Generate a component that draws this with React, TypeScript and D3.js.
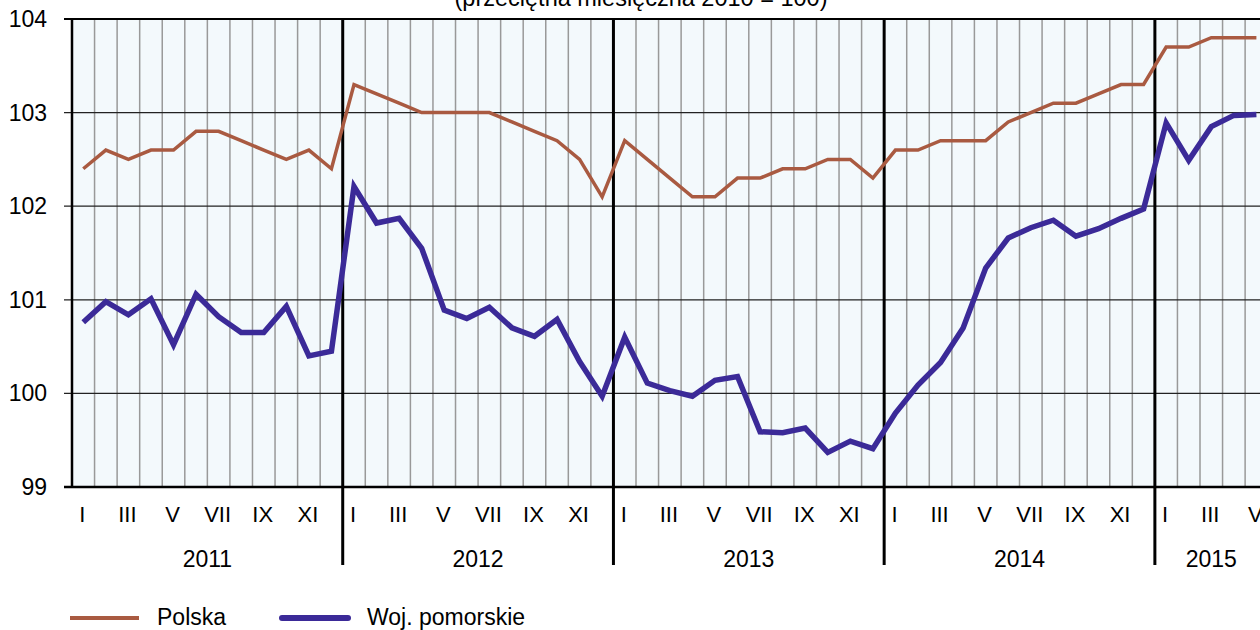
import React, { useEffect, useRef } from "react";
import * as d3 from "d3";

// Indeks cen (przeciętna miesięczna 2010 = 100), I 2011 – V 2015
const years = ["2011", "2012", "2013", "2014", "2015"];
const monthLabels = ["I", "", "III", "", "V", "", "VII", "", "IX", "", "XI", ""];
const yTicks = [99, 100, 101, 102, 103, 104];

const polska = [
  102.4, 102.6, 102.5, 102.6, 102.6, 102.8, 102.8, 102.7, 102.6, 102.5, 102.6, 102.4,
  103.3, 103.2, 103.1, 103.0, 103.0, 103.0, 103.0, 102.9, 102.8, 102.7, 102.5, 102.1,
  102.7, 102.5, 102.3, 102.1, 102.1, 102.3, 102.3, 102.4, 102.4, 102.5, 102.5, 102.3,
  102.6, 102.6, 102.7, 102.7, 102.7, 102.9, 103.0, 103.1, 103.1, 103.2, 103.3, 103.3,
  103.7, 103.7, 103.8, 103.8, 103.8,
];

const pomorskie = [
  100.76, 100.98, 100.84, 101.01, 100.52, 101.06, 100.82, 100.65, 100.65, 100.93, 100.4, 100.45,
  102.21, 101.82, 101.87, 101.55, 100.89, 100.8, 100.92, 100.7, 100.61, 100.79, 100.34, 99.97,
  100.6, 100.11, 100.03, 99.97, 100.14, 100.18, 99.59, 99.58, 99.63, 99.37, 99.49, 99.41,
  99.79, 100.09, 100.33, 100.7, 101.34, 101.66, 101.77, 101.85, 101.68, 101.76, 101.87, 101.97,
  102.89, 102.49, 102.85, 102.97, 102.98,
];

const W = 1260;
const H = 630;
const FONT = "Arial, 'Liberation Sans', Helvetica, sans-serif";

export default function App() {
  const svgRef = useRef<SVGSVGElement>(null);

  useEffect(() => {
    if (!svgRef.current) return;
    const svg = d3.select(svgRef.current);
    svg.selectAll("*").remove();

    const n = polska.length;
    const left = 72;
    const top = 19;
    const bottom = 487;
    const monthW = 22.56;
    const right = left + n * monthW;

    const x = d3.scaleLinear().domain([0, n]).range([left, right]);
    const y = d3.scaleLinear().domain([99, 104]).range([bottom, top]);

    // plot background
    svg.append("rect")
      .attr("x", left).attr("y", top)
      .attr("width", right - left).attr("height", bottom - top)
      .attr("fill", "#f3f9fc");

    // month gridlines
    svg.append("g")
      .selectAll("line")
      .data(d3.range(1, n).filter(i => i % 12 !== 0))
      .join("line")
      .attr("x1", d => x(d)).attr("x2", d => x(d))
      .attr("y1", top).attr("y2", bottom)
      .attr("stroke", "#999")
      .attr("stroke-width", 1.5);

    // horizontal gridlines + ticks
    svg.append("g")
      .selectAll("line")
      .data(yTicks)
      .join("line")
      .attr("x1", left - 8).attr("x2", right)
      .attr("y1", d => y(d)).attr("y2", d => y(d))
      .attr("stroke", "#222")
      .attr("stroke-width", 1.3);

    svg.append("g")
      .selectAll("text")
      .data(yTicks)
      .join("text")
      .attr("x", 47)
      .attr("y", d => y(d) + 8)
      .attr("text-anchor", "end")
      .attr("font-family", FONT)
      .attr("font-size", 23)
      .text(d => d);

    // frame
    svg.append("line")
      .attr("x1", left - 8).attr("x2", right)
      .attr("y1", top).attr("y2", top)
      .attr("stroke", "#000").attr("stroke-width", 2);
    svg.append("line")
      .attr("x1", left - 8).attr("x2", right)
      .attr("y1", bottom).attr("y2", bottom)
      .attr("stroke", "#000").attr("stroke-width", 2.5);
    svg.append("line")
      .attr("x1", left).attr("x2", left)
      .attr("y1", top).attr("y2", bottom)
      .attr("stroke", "#000").attr("stroke-width", 2.5);

    // year separators
    svg.append("g")
      .selectAll("line")
      .data(d3.range(12, n, 12))
      .join("line")
      .attr("x1", d => x(d)).attr("x2", d => x(d))
      .attr("y1", top).attr("y2", 565)
      .attr("stroke", "#000")
      .attr("stroke-width", 3);

    // month labels
    svg.append("g")
      .selectAll("text")
      .data(d3.range(n).filter(i => monthLabels[i % 12] !== ""))
      .join("text")
      .attr("x", d => x(d + 0.5) - 1)
      .attr("y", 522)
      .attr("text-anchor", "middle")
      .attr("font-family", FONT)
      .attr("font-size", 22)
      .text(d => monthLabels[d % 12]);

    // year labels
    svg.append("g")
      .selectAll("text")
      .data(years)
      .join("text")
      .attr("x", (d, i) => (x(i * 12) + x(Math.min((i + 1) * 12, n))) / 2)
      .attr("y", 567)
      .attr("text-anchor", "middle")
      .attr("font-family", FONT)
      .attr("font-size", 23)
      .text(d => d);

    // series
    const line = d3.line<number>()
      .x((d, i) => x(i + 0.5))
      .y(d => y(d));

    svg.append("path")
      .datum(polska)
      .attr("d", line)
      .attr("fill", "none")
      .attr("stroke", "#a95a41")
      .attr("stroke-width", 3.5);

    svg.append("path")
      .datum(pomorskie)
      .attr("d", line)
      .attr("fill", "none")
      .attr("stroke", "#3b2a98")
      .attr("stroke-width", 5.5);

    // title (cut off at top)
    svg.append("text")
      .attr("x", 641)
      .attr("y", 6)
      .attr("text-anchor", "middle")
      .attr("font-family", FONT)
      .attr("font-size", 23.5)
      .text("(przeciętna miesięczna 2010 = 100)");

    // legend
    const legend = [
      { label: "Polska", color: "#a95a41", width: 4, x1: 70, x2: 139, tx: 157 },
      { label: "Woj. pomorskie", color: "#3b2a98", width: 6, x1: 282, x2: 348, tx: 367 },
    ];
    const lg = svg.append("g");
    legend.forEach(l => {
      lg.append("line")
        .attr("x1", l.x1).attr("x2", l.x2)
        .attr("y1", 618).attr("y2", 618)
        .attr("stroke", l.color)
        .attr("stroke-width", l.width)
        .attr("stroke-linecap", l.width > 5 ? "round" : "butt");
      lg.append("text")
        .attr("x", l.tx)
        .attr("y", 625)
        .attr("font-family", FONT)
        .attr("font-size", 23)
        .text(l.label);
    });
  }, []);

  return (
    <div style={{ position: "absolute", left: 0, top: 0, width: W, height: H, overflow: "hidden", background: "#fff" }}>
      <svg ref={svgRef} width={W} height={H} style={{ display: "block" }} />
    </div>
  );
}
